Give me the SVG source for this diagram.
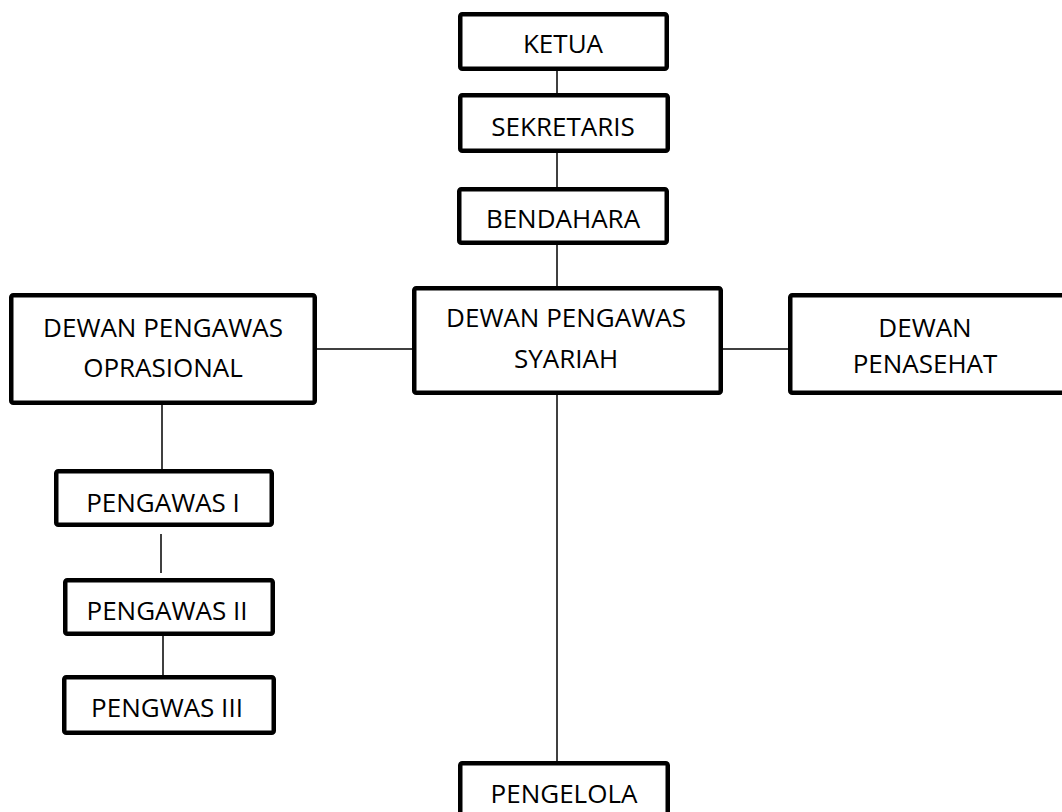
<svg xmlns="http://www.w3.org/2000/svg" width="1062" height="812" viewBox="0 0 1062 812">
<style>
.box{fill:#fff;stroke:#000;stroke-width:4.5}
.t{font-family:"Open Sans","Noto Sans","Liberation Sans",sans-serif;font-size:26px;fill:#000;text-anchor:middle}
.c{stroke:#000;stroke-width:1.5;fill:none}
</style>
<rect width="1062" height="812" fill="#fff"/>
<g id="connectors">
<line class="c" x1="557" y1="71" x2="557" y2="93"/>
<line class="c" x1="557" y1="153" x2="557" y2="187"/>
<line class="c" x1="557" y1="245" x2="557" y2="286"/>
<line class="c" x1="317" y1="349" x2="412" y2="349"/>
<line class="c" x1="723" y1="349" x2="788" y2="349"/>
<line class="c" x1="557" y1="395" x2="557" y2="761"/>
<line class="c" x1="162" y1="405" x2="162" y2="469"/>
<line class="c" x1="161" y1="534" x2="161" y2="573"/>
<line class="c" x1="163" y1="636" x2="163" y2="675"/>
</g>
<g id="ketua">
<rect class="box" x="460.25" y="14.25" width="206.5" height="54.5" rx="2"/>
<text class="t" x="563" y="53">KETUA</text>
</g>
<g id="sekretaris">
<rect class="box" x="460.25" y="95.25" width="207.5" height="55.5" rx="2"/>
<text class="t" x="563" y="136">SEKRETARIS</text>
</g>
<g id="bendahara">
<rect class="box" x="459.25" y="189.25" width="207.5" height="53.5" rx="2"/>
<text class="t" x="563" y="228">BENDAHARA</text>
</g>
<g id="dewan-pengawas-syariah">
<rect class="box" x="414.25" y="288.25" width="306.5" height="104.5" rx="2"/>
<text class="t" x="566" y="327">DEWAN PENGAWAS</text>
<text class="t" x="566" y="368">SYARIAH</text>
</g>
<g id="dewan-pengawas-oprasional">
<rect class="box" x="11.25" y="295.25" width="303.5" height="107.5" rx="2"/>
<text class="t" x="163" y="337">DEWAN PENGAWAS</text>
<text class="t" x="163" y="377">OPRASIONAL</text>
</g>
<g id="dewan-penasehat">
<rect class="box" x="790.25" y="295.25" width="290" height="97.5" rx="2"/>
<text class="t" x="925" y="337">DEWAN</text>
<text class="t" x="925" y="373">PENASEHAT</text>
</g>
<g id="pengawas-1">
<rect class="box" x="56.25" y="471.25" width="215.5" height="53.5" rx="2"/>
<text class="t" x="163" y="512">PENGAWAS I</text>
</g>
<g id="pengawas-2">
<rect class="box" x="65.25" y="580.25" width="207.5" height="53.5" rx="2"/>
<text class="t" x="167" y="620">PENGAWAS II</text>
</g>
<g id="pengwas-3">
<rect class="box" x="64.25" y="677.25" width="209.5" height="55.5" rx="2"/>
<text class="t" x="167" y="717">PENGWAS III</text>
</g>
<g id="pengelola">
<rect class="box" x="460.25" y="763.25" width="207.5" height="80" rx="2"/>
<text class="t" x="564" y="803">PENGELOLA</text>
</g>
</svg>
